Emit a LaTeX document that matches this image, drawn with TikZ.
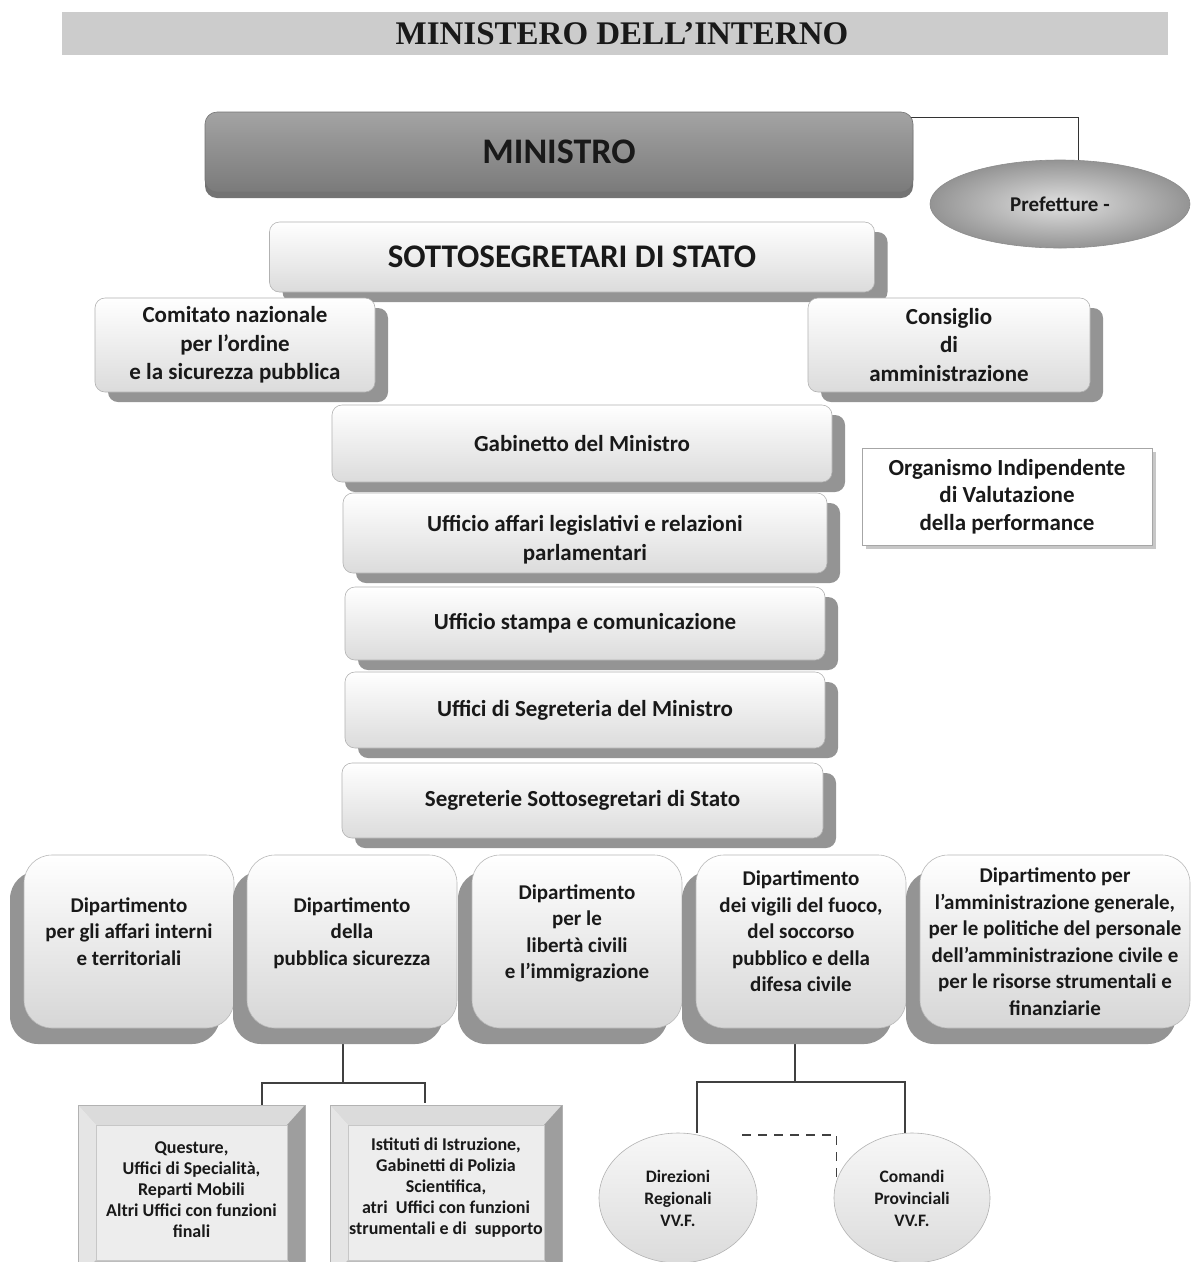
\documentclass[tikz,border=0pt]{standalone}
\usepackage{fontspec}
\setmainfont{Carlito}
\newfontfamily\titlefont{Liberation Serif}
\usetikzlibrary{shapes.geometric,shadows,calc,backgrounds}
\tikzset{
  conn/.style={draw=black!75, line width=1.5pt},
  thinconn/.style={draw=black!80, line width=1pt},
  topbox/.style={rectangle, rounded corners=10pt, draw=black!30, line width=0.6pt,
    top color=white, bottom color=black!14, align=center, inner sep=2pt, text=black!90,
    font=\bfseries\fontsize{23}{29}\selectfont,
    drop shadow={shadow xshift=13pt, shadow yshift=-10pt, fill=black!42, opacity=1}},
  deptbox/.style={rectangle, rounded corners=28pt, draw=black!28, line width=0.6pt,
    top color=white, bottom color=black!16, align=center, inner sep=1pt, text=black!90,
    minimum width=210pt, minimum height=173pt,
    font=\bfseries\fontsize{21}{26.5}\selectfont,
    drop shadow={shadow xshift=-14pt, shadow yshift=-16pt, fill=black!42, opacity=1}},
  ovalbox/.style={ellipse, draw=black!30, line width=0.6pt, top color=black!3,
    bottom color=black!14, align=center, inner sep=0pt, text=black!90,
    font=\bfseries\fontsize{17.5}{22}\selectfont},
  bevtext/.style={align=center, inner sep=0pt, text=black!90,
    font=\bfseries\fontsize{18}{21}\selectfont},
}
\newcommand\liftup{\\[-6.5pt]\mbox{}}
\newcommand\bevframe[4]{%
  \fill[black!7] (#1,#2) rectangle (#3,#4);
  \fill[black!14] (#1,#2) -- (#3,#2) -- (#3-18,#2-20) -- (#1+18,#2-20) -- cycle;
  \fill[black!10] (#1,#2) -- (#1+18,#2-20) -- (#1+18,#4+20) -- (#1,#4) -- cycle;
  \fill[black!38] (#3,#2) -- (#3-18,#2-20) -- (#3-18,#4+20) -- (#3,#4) -- cycle;
  \fill[black!26] (#1,#4) -- (#1+18,#4+20) -- (#3-18,#4+20) -- (#3,#4) -- cycle;
  \draw[black!30, line width=0.6pt] (#1,#2) rectangle (#3,#4);
  \draw[black!22, line width=0.5pt] (#1+18,#2-20) rectangle (#3-18,#4+20);
}
\begin{document}
\begin{tikzpicture}[x=1pt, y=1pt]
\path[use as bounding box] (0,0) rectangle (1191,-1262);
\clip (0,0) rectangle (1191,-1262);

% title
\node[rectangle, fill=black!20, minimum width=1106pt, minimum height=43pt, inner sep=0pt,
  font=\titlefont\bfseries\fontsize{33}{33}\selectfont, text=black!90] (title) at (615,-33.5)
  {\hspace*{14pt}MINISTERO DELL’INTERNO};

% top level
\node[rectangle, rounded corners=12pt, draw=black!55, line width=0.6pt,
  top color=black!36, bottom color=black!52, minimum width=708pt, minimum height=80pt,
  font=\bfseries\fontsize{36}{36}\selectfont, text=black!90,
  drop shadow={shadow xshift=0pt, shadow yshift=-6pt, fill=black!55, opacity=1}]
  (minis) at (559,-152) {MINISTRO};
\node[ellipse, draw=black!45, line width=0.6pt, inner color=black!12, outer color=black!42,
  minimum width=260pt, minimum height=88pt, font=\bfseries\fontsize{21}{21}\selectfont,
  text=black!90] (pref) at (1060,-204) {Prefetture -};

\node[topbox, minimum width=605pt, minimum height=70pt,
  font=\bfseries\fontsize{33}{33}\selectfont] (sotto) at (572,-257) {SOTTOSEGRETARI DI STATO};

\node[topbox, minimum width=280pt, minimum height=94pt,
  font=\bfseries\fontsize{23}{28.5}\selectfont] (comit) at (235,-345)
  {Comitato nazionale\\per l’ordine\\e la sicurezza pubblica};
\node[topbox, minimum width=282pt, minimum height=94pt,
  font=\bfseries\fontsize{23}{28.5}\selectfont] (consig) at (949,-345)
  {Consiglio\\di\\amministrazione};

\node[topbox, minimum width=500pt, minimum height=77pt] (gab) at (582,-443.5) {Gabinetto del Ministro};
\node[rectangle, draw=black!35, line width=0.6pt, fill=white, minimum width=290pt, minimum height=97pt,
  align=center, text=black!90, font=\bfseries\fontsize{23}{27.5}\selectfont,
  drop shadow={shadow xshift=4pt, shadow yshift=-4pt, fill=black!22, opacity=1}]
  (org) at (1007,-496.5) {Organismo Indipendente\\di Valutazione\\della performance};
\node[topbox, minimum width=484pt, minimum height=80pt] (uffaff) at (585,-533)
  {\rule{0pt}{30pt}Ufficio affari legislativi e relazioni\\parlamentari};
\node[topbox, minimum width=480pt, minimum height=73pt] (stampa) at (585,-623.5)
  {Ufficio stampa e comunicazione};
\node[topbox, minimum width=480pt, minimum height=76pt] (segr) at (585,-710)
  {Uffici di Segreteria del Ministro};
\node[topbox, minimum width=481pt, minimum height=75pt] (segrsott) at (582.5,-800.5)
  {Segreterie Sottosegretari di Stato};

% departments
\node[deptbox] (d1) at (129,-941.5) {Dipartimento\\per gli affari interni\\e territoriali\liftup};
\node[deptbox] (d2) at (352,-941.5) {Dipartimento\\della\\pubblica sicurezza\liftup};
\node[deptbox] (d3) at (577,-941.5) {Dipartimento\\per le\\libertà civili\\e l’immigrazione\liftup};
\node[deptbox] (d4) at (801,-941.5) {Dipartimento\\dei vigili del fuoco,\\del soccorso\\pubblico e della\\difesa civile\liftup};
\node[deptbox, minimum width=270pt] (d5) at (1055,-941.5)
  {Dipartimento per\\l’amministrazione generale,\\per le politiche del personale\\dell’amministrazione civile e\\per le risorse strumentali e\\finanziarie};

% bottom level
\bevframe{78}{-1105}{305}{-1280}
\bevframe{330}{-1105}{562}{-1280}
\node[bevtext, minimum width=227pt, minimum height=170pt] (q) at (191.5,-1190)
  {Questure,\\Uffici di Specialità,\\Reparti Mobili\\Altri Uffici con funzioni\\finali};
\node[bevtext, minimum width=232pt, minimum height=170pt] (ist) at (446,-1188)
  {Istituti di Istruzione,\\Gabinetti di Polizia\\Scientifica,\\atri\ \ Uffici con funzioni\\strumentali e di\ \ supporto};

\node[ovalbox, minimum width=158pt, minimum height=130pt] (dr) at (678,-1198)
  {Direzioni\\Regionali\\VV.F.};
\node[ovalbox, minimum width=156pt, minimum height=130pt] (cp) at (912,-1198)
  {Comandi\\Provinciali\\VV.F.};

% connectors
\begin{pgfonlayer}{background}
  \fill[white] (0,0) rectangle (1191,-1262);
  \coordinate (px) at (1078,0);
  \draw[thinconn] ($(minis.north east)+(-12,-6)$) -| (pref.north -| px);
  \coordinate (j1) at (343,-1083);
  \coordinate (qx) at (262,0);
  \coordinate (ix) at (425,0);
  \draw[conn] (d2.south -| j1) -- (j1);
  \draw[conn] (q.north -| qx) |- (j1) -| (ist.north -| ix);
  \coordinate (j2) at (795,-1082);
  \coordinate (dx) at (697,0);
  \coordinate (cx) at (905,0);
  \draw[conn] (d4.south -| j2) -- (j2);
  \draw[conn] (dr.north -| dx) |- (j2) -| (cp.north -| cx);
  \coordinate (dsh) at (742,-1135);
  \draw[conn, line width=1.2pt, dash pattern=on 9pt off 7pt] (dsh) -| ($(cp.west)+(3,0)$);
\end{pgfonlayer}
\end{tikzpicture}
\end{document}
